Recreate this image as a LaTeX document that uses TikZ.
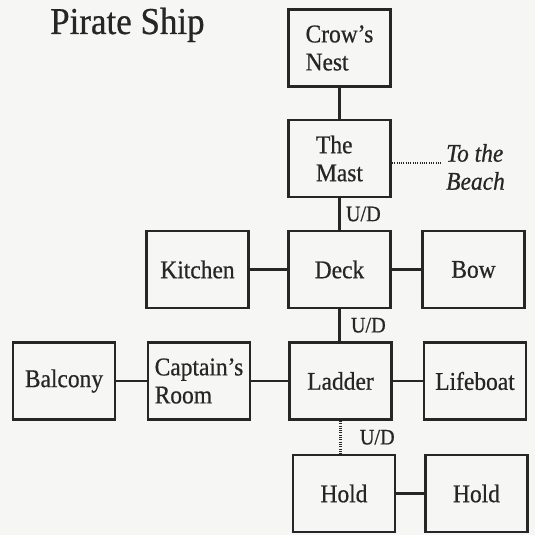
\documentclass[tikz,border=0pt]{standalone}
\usepackage{fontspec}
\setmainfont{Liberation Serif}[FakeBold=0.6,FakeStretch=0.92]
\usetikzlibrary{positioning}
\colorlet{Ink}{black!85}
\definecolor{Paper}{RGB}{246,246,244}

\begin{document}
\begin{tikzpicture}[x=1pt,y=-1pt,
      room/.style={draw=Ink,line width=2.8pt,minimum width=102pt,minimum height=77pt,
        align=left,inner sep=2pt,text=Ink,font=\fontsize{25.5}{28}\selectfont},
      link/.style={draw=Ink,line width=2.8pt},
      weak/.style={draw=Ink,line width=2.6pt,dash pattern=on 1pt off 1.3pt},
      updown/.style={text=Ink,inner sep=0pt,font=\fontsize{22}{24}\selectfont}
    ]
    % Fond de page et titre.
    \path[use as bounding box,fill=Paper] (0,0) rectangle (535,535);
    \node[anchor=base west,inner sep=0pt,text=Ink,font=\fontsize{38}{42}\selectfont]
      (title) at (50,34) {Pirate Ship};

    \node[room] (nest) at (339.5,48) {Crow’s\\Nest};
    \node[room] (mast) at (339.5,158.5) {The\\Mast};

    \node[room] (kitchen) at (197.5,269.5) {Kitchen};
    \node[room] (deck) at (339.5,269.5) {Deck};
    \node[room] (bow) at (473.5,269.5) {Bow};

    \node[room] (balcony) at (64,381) {Balcony};
    \node[room] (captain) at (199,381) {Captain’s\\Room};
    \node[room] (ladder) at (340.5,381) {Ladder};
    \node[room] (lifeboat) at (475,381) {Lifeboat};

    \node[room] (holdA) at (344,493.5) {Hold};
    \node[room] (holdB) at (476.5,493.5) {Hold};

    \coordinate (shore) at (441,163);
    \node[anchor=west,inner sep=0pt,align=left,text=Ink,
      font=\fontsize{25.5}{28}\selectfont\itshape] (beach) at (446,167)
      {To the\\Beach};

    \path[link] (nest.south) -- (nest.south |- mast.north);
    \path[link] (mast.south) -- node[updown,right=5pt] {U/D} (mast.south |- deck.north);
    \path[link] (deck.south) -- node[updown,right=10pt] {U/D} (deck.south |- ladder.north);
    \path[weak] (ladder.south) -- node[updown,right=18pt] {U/D} (ladder.south |- holdA.north);
    \path[weak] (mast.east |- shore) -- (shore);

    \path[link] (kitchen) -- (deck);
    \path[link] (deck) -- (bow);
    \path[link] (balcony) -- (captain);
    \path[link] (captain) -- (ladder);
    \path[link] (ladder) -- (lifeboat);
    \path[link] (holdA) -- (holdB);
  \end{tikzpicture}
\end{document}
